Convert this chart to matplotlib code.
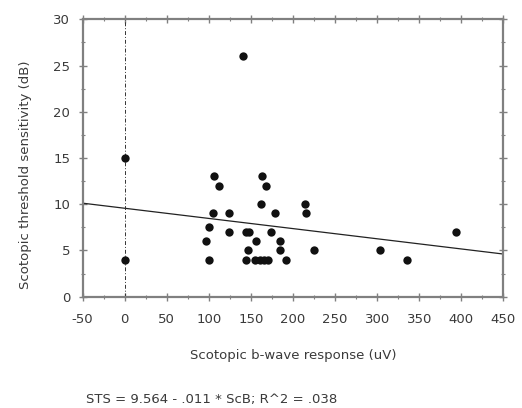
import matplotlib
matplotlib.use("Agg")
import matplotlib.pyplot as plt
from matplotlib.ticker import MultipleLocator

plt.rcParams["font.family"] = ["DejaVu Sans"]
plt.rcParams["axes.unicode_minus"] = False

# scotopic b-wave response (uV) and threshold sensitivity (dB)
scb = [0, 0, 140, 106, 112, 105, 100, 96, 100, 124, 124, 144, 148, 147, 156,
       144, 155, 161, 165, 170, 163, 168, 162, 179, 174, 184, 184, 192,
       214, 216, 225, 304, 336, 394]
sts = [15, 4, 26, 13, 12, 9, 7.5, 6, 4, 9, 7, 7, 7, 5, 6,
       4, 4, 4, 4, 4, 13, 12, 10, 9, 7, 6, 5, 4,
       10, 9, 5, 5, 4, 7]

intercept = 9.564
slope = -0.011
fit_x = [-50, 450]

txt = "#3a3a3a"
frame = "#808080"

fig = plt.figure(figsize=(5.22, 4.08), dpi=100)
ax = fig.add_axes([0.1584, 0.2728, 0.8058, 0.6799])

ax.scatter(scb, sts, s=36, color="#111111", zorder=3, linewidths=0)
ax.plot(fit_x, [intercept + slope * x for x in fit_x], color="#222222", lw=0.9)
ax.axvline(0, color="#333333", lw=0.7, ls=(0, (4, 2, 1, 2)))

ax.set_xlim(-50, 450)
ax.set_ylim(0, 30)
ax.xaxis.set_major_locator(MultipleLocator(50))
ax.xaxis.set_minor_locator(MultipleLocator(25))
ax.yaxis.set_major_locator(MultipleLocator(5))
ax.yaxis.set_minor_locator(MultipleLocator(2.5))
ax.tick_params(which="both", direction="inout", top=True, right=True,
               colors=frame, labelcolor=txt, labelsize=9.5)
ax.tick_params(which="major", length=6, width=1.0)
ax.tick_params(which="minor", length=3, width=0.8)
ax.tick_params(axis="x", which="major", pad=9)
ax.tick_params(axis="y", which="major", pad=6)
for sp in ax.spines.values():
    sp.set_color(frame)
    sp.set_linewidth(1.6)

ax.set_xlabel("Scotopic b-wave response (uV)", fontsize=9.5, color=txt, labelpad=16)
ax.set_ylabel("Scotopic threshold sensitivity (dB)", fontsize=9.5, color=txt)
ax.yaxis.set_label_coords(-0.12, 0.44)

fig.text(0.165, 0.012, "STS = 9.564 - .011 * ScB; R^2 = .038", fontsize=9.5, color=txt)

fig.savefig("out.png", dpi=100)
